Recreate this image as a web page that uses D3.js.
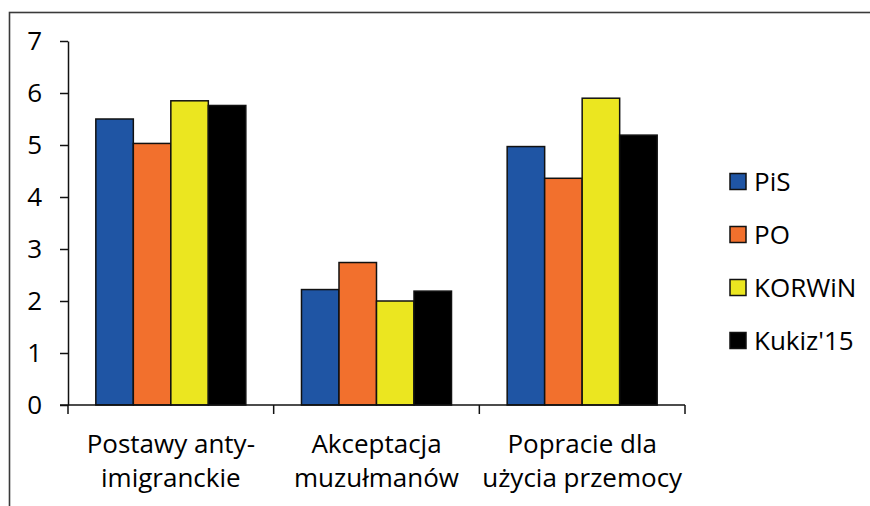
<!DOCTYPE html>
<html>
<head>
<meta charset="utf-8">
<script src="https://cdn.jsdelivr.net/npm/d3@7"></script>
<style>
  html, body { margin: 0; padding: 0; background: #fff; }
  svg { display: block; }
  text { font-family: "Open Sans", "Noto Sans", sans-serif; fill: #000; }
</style>
</head>
<body>
<svg id="chart" width="870" height="506"></svg>
<script>
const categories = [["Postawy anty-", "imigranckie"], ["Akceptacja", "muzułmanów"], ["Popracie dla", "użycia przemocy"]];
const categoryKeys = ["anti", "accept", "violence"];
const series = ["PiS", "PO", "KORWiN", "Kukiz'15"];
const seriesColors = ["#1f55a4", "#f2702d", "#ebe620", "#000000"];
const valuesPiS = [5.50, 2.22, 4.97];
const valuesPO = [5.03, 2.74, 4.36];
const valuesKORWiN = [5.85, 2.00, 5.90];
const valuesKukiz = [5.76, 2.19, 5.19];
const yTicks = [0, 1, 2, 3, 4, 5, 6, 7];

const seriesValues = [valuesPiS, valuesPO, valuesKORWiN, valuesKukiz];

const svg = d3.select("#chart");

// outer frame
svg.append("rect")
  .attr("x", 9.5).attr("y", 12.5)
  .attr("width", 900).attr("height", 600)
  .attr("fill", "none").attr("stroke", "#3a3a3a").attr("stroke-width", 1.6);

const y = d3.scaleLinear().domain([0, 7]).range([405, 41]);
const x0 = d3.scaleBand().domain(categoryKeys).range([68, 685]).paddingInner(0).paddingOuter(0);
const x1 = d3.scaleBand().domain(series).range([0, x0.bandwidth()]).paddingInner(0).paddingOuter(0.742);
const color = d3.scaleOrdinal().domain(series).range(seriesColors);

// bars
const groups = svg.append("g").selectAll("g")
  .data(categoryKeys)
  .join("g")
  .attr("transform", d => `translate(${x0(d)},0)`);

groups.selectAll("rect")
  .data((d, i) => series.map((s, j) => ({ s, v: seriesValues[j][i] })))
  .join("rect")
  .attr("x", d => x1(d.s))
  .attr("y", d => y(d.v))
  .attr("width", x1.bandwidth())
  .attr("height", d => y(0) - y(d.v))
  .attr("fill", d => color(d.s))
  .attr("stroke", "#111")
  .attr("stroke-width", 1.5);

// y axis
const yAxis = d3.axisLeft(y).tickValues(yTicks).tickFormat(d3.format("d"))
  .tickSize(8).tickPadding(18).tickSizeOuter(0);
const gy = svg.append("g").attr("transform", "translate(68,0)").call(yAxis);
gy.select(".domain").attr("stroke", "#111").attr("stroke-width", 1.5);
gy.selectAll(".tick line").attr("stroke", "#111").attr("stroke-width", 1.5);
gy.selectAll(".tick text")
  .attr("font-size", 26)
  .attr("font-family", "'Open Sans', 'Noto Sans', sans-serif")
  .attr("fill", "#000");

// x axis
const xEdge = d3.scaleLinear().domain([0, 3]).range([68, 685]);
const gx = svg.append("g").attr("transform", "translate(0,405)");
gx.append("line")
  .attr("x1", 60).attr("x2", 685)
  .attr("stroke", "#111").attr("stroke-width", 1.5);
gx.selectAll("line.tk")
  .data(d3.range(4))
  .join("line")
  .attr("class", "tk")
  .attr("x1", d => xEdge(d)).attr("x2", d => xEdge(d))
  .attr("y1", 0).attr("y2", 9)
  .attr("stroke", "#111").attr("stroke-width", 1.5);

// category labels
const labels = svg.append("g").selectAll("text")
  .data(categoryKeys)
  .join("text")
  .attr("text-anchor", "middle")
  .attr("font-size", 26)
  .attr("x", d => x0(d) + x0.bandwidth() / 2);
labels.each(function (d, i) {
  const t = d3.select(this);
  categories[i].forEach((line, k) => {
    t.append("tspan")
      .attr("x", x0(d) + x0.bandwidth() / 2)
      .attr("y", 453 + k * 34)
      .text(line);
  });
});

// legend
const legY = d3.scalePoint().domain(series).range([182, 341]);
const leg = svg.append("g").selectAll("g")
  .data(series)
  .join("g")
  .attr("transform", d => `translate(730,${legY(d)})`);
leg.append("rect")
  .attr("x", 0).attr("y", -8.5)
  .attr("width", 16).attr("height", 16)
  .attr("fill", d => color(d))
  .attr("stroke", "#111").attr("stroke-width", 1.5);
leg.append("text")
  .attr("x", 24).attr("y", 9)
  .attr("font-size", 26)
  .text(d => d);
</script>
</body>
</html>
